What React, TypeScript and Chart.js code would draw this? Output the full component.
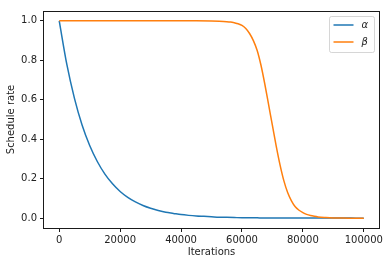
import React, { useEffect, useRef } from "react";
import { Chart, registerables } from "chart.js";

Chart.register(...registerables);

const ITERATIONS = [
  0, 2500, 5000, 7500, 10000, 12500, 15000, 17500, 20000, 22500,
  25000, 27500, 30000, 32500, 35000, 37500, 40000, 42500, 45000, 47500,
  50000, 52500, 55000, 57500, 60000, 62500, 65000, 67500, 70000, 72500,
  75000, 77500, 80000, 82500, 85000, 87500, 90000, 92500, 95000, 97500, 100000,
];

const ALPHA = [
  1, 0.779, 0.607, 0.472, 0.368, 0.287, 0.223, 0.174, 0.135, 0.105,
  0.082, 0.064, 0.05, 0.039, 0.03, 0.024, 0.018, 0.014, 0.011, 0.009,
  0.007, 0.005, 0.004, 0.003, 0.002, 0.002, 0.0015, 0.001, 0.001, 0.001,
  0.0005, 0.0005, 0.0004, 0.0003, 0.0003, 0.0002, 0.0002, 0.0001, 0.0001, 0, 0,
];

const BETA_ITERATIONS = [
  0, 10000, 20000, 30000, 40000, 45000, 50000, 52500,
  55000, 56250, 57500, 58750, 60000, 61250, 62500, 63750, 65000, 66250,
  67500, 68750, 70000, 71250, 72500, 73750, 75000, 76250, 77500, 78750,
  80000, 81250, 82500, 83750, 85000, 87500, 90000, 92500, 95000, 100000,
];

const BETA = [
  1, 1, 1, 1, 1, 1, 0.999, 0.998,
  0.996, 0.994, 0.99, 0.985, 0.977, 0.961, 0.936, 0.9, 0.85, 0.775,
  0.68, 0.575, 0.47, 0.365, 0.27, 0.19, 0.13, 0.088, 0.058, 0.04,
  0.028, 0.019, 0.013, 0.009, 0.006, 0.003, 0.001, 0.0005, 0, 0,
];

const X_TICKS = [0, 20000, 40000, 60000, 80000, 100000];
const Y_TICKS = [0, 0.2, 0.4, 0.6, 0.8, 1.0];
const SERIES_LABELS = ["α", "β"];
const SERIES_COLORS = ["#1f77b4", "#ff7f0e"];

const frameAndLegend = {
  id: "frameAndLegend",
  afterDraw(chart: any) {
    const { ctx, chartArea } = chart;
    const { left, right, top, bottom } = chartArea;
    ctx.save();
    ctx.strokeStyle = "#1a1a1a";
    ctx.lineWidth = 1;
    ctx.strokeRect(
      Math.round(left) - 0.5,
      Math.round(top) + 0.5,
      Math.round(right) - Math.round(left) + 1,
      Math.round(bottom) - Math.round(top)
    );
    const bw = 45;
    const bh = 36;
    const bx = Math.round(right) - 5 - bw + 0.5;
    const by = Math.round(top) + 5 + 0.5;
    const r = 2;
    ctx.beginPath();
    ctx.moveTo(bx + r, by);
    ctx.lineTo(bx + bw - r, by);
    ctx.arcTo(bx + bw, by, bx + bw, by + r, r);
    ctx.lineTo(bx + bw, by + bh - r);
    ctx.arcTo(bx + bw, by + bh, bx + bw - r, by + bh, r);
    ctx.lineTo(bx + r, by + bh);
    ctx.arcTo(bx, by + bh, bx, by + bh - r, r);
    ctx.lineTo(bx, by + r);
    ctx.arcTo(bx, by, bx + r, by, r);
    ctx.closePath();
    ctx.fillStyle = "rgba(255,255,255,0.8)";
    ctx.fill();
    ctx.strokeStyle = "rgba(204,204,204,0.8)";
    ctx.lineWidth = 1;
    ctx.stroke();
    SERIES_LABELS.forEach((label, i) => {
      const cy = by + 8.5 + i * 17;
      ctx.strokeStyle = SERIES_COLORS[i];
      ctx.lineWidth = 1.5;
      ctx.beginPath();
      ctx.moveTo(bx + 4, cy);
      ctx.lineTo(bx + 24, cy);
      ctx.stroke();
      ctx.fillStyle = "#222";
      ctx.font = "italic 10px 'DejaVu Sans'";
      ctx.textBaseline = "middle";
      ctx.textAlign = "left";
      ctx.fillText(label, bx + 32, cy);
    });
    ctx.restore();
  },
};

export default function App() {
  const ref = useRef<HTMLCanvasElement>(null);
  useEffect(() => {
    document.body.style.margin = "0";
    const canvas = ref.current;
    if (!canvas) return;
    const font = { family: "'DejaVu Sans'", size: 10 };
    const chart = new Chart(canvas, {
      type: "line",
      data: {
        datasets: [
          {
            label: SERIES_LABELS[0],
            data: ITERATIONS.map((x, i) => ({ x, y: ALPHA[i] })),
            borderColor: SERIES_COLORS[0],
            borderWidth: 1.5,
            pointRadius: 0,
            cubicInterpolationMode: "monotone",
            fill: false,
            order: 1,
          },
          {
            label: SERIES_LABELS[1],
            data: BETA_ITERATIONS.map((x, i) => ({ x, y: BETA[i] })),
            borderColor: SERIES_COLORS[1],
            borderWidth: 1.5,
            pointRadius: 0,
            cubicInterpolationMode: "monotone",
            fill: false,
            order: 0,
          },
        ],
      },
      options: {
        animation: false,
        responsive: false,
        devicePixelRatio: 1,
        layout: { padding: { top: 11, right: 10, left: 0, bottom: 0 } },
        plugins: { legend: { display: false }, tooltip: { enabled: false } },
        scales: {
          x: {
            type: "linear",
            min: -5000,
            max: 105000,
            afterBuildTicks: (s: any) => {
              s.ticks = X_TICKS.map((v) => ({ value: v }));
            },
            afterFit: (s: any) => {
              s.height = 38;
              s.paddingLeft = 0;
              s.paddingRight = 0;
            },
            ticks: {
              font,
              color: "#222",
              padding: 2,
              maxRotation: 0,
              autoSkip: false,
              callback: (v: any) => String(v),
            },
            grid: {
              drawOnChartArea: false,
              drawTicks: true,
              tickLength: 4,
              color: "#1a1a1a",
              lineWidth: 1,
            },
            border: { display: false },
            title: {
              display: true,
              text: "Iterations",
              font,
              color: "#222",
              padding: { top: 0, bottom: 8 },
            },
          },
          y: {
            type: "linear",
            min: -0.05,
            max: 1.05,
            afterBuildTicks: (s: any) => {
              s.ticks = Y_TICKS.map((v) => ({ value: v }));
            },
            afterFit: (s: any) => {
              s.width = 44;
              s.paddingTop = 0;
              s.paddingBottom = 0;
            },
            ticks: {
              font,
              color: "#222",
              padding: 3,
              autoSkip: false,
              callback: (v: any) => Number(v).toFixed(1),
            },
            grid: {
              drawOnChartArea: false,
              drawTicks: true,
              tickLength: 4,
              color: "#1a1a1a",
              lineWidth: 1,
            },
            border: { display: false },
            title: {
              display: true,
              text: "Schedule rate",
              font,
              color: "#222",
              padding: { top: 5, bottom: 0 },
            },
          },
        },
      } as any,
      plugins: [frameAndLegend],
    });
    return () => chart.destroy();
  }, []);
  return (
    <div style={{ width: 389, height: 266 }}>
      <canvas ref={ref} width={389} height={266} style={{ display: "block" }} />
    </div>
  );
}
